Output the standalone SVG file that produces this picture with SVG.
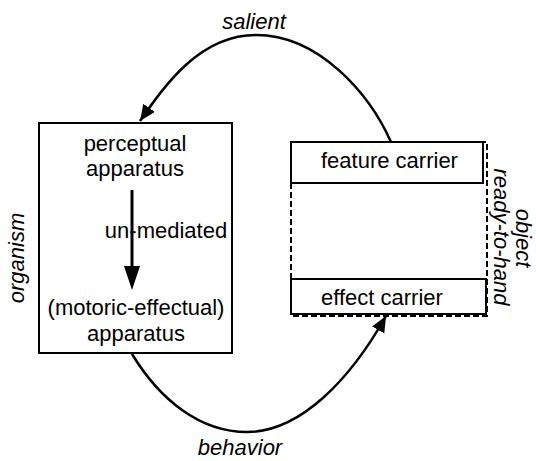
<svg xmlns="http://www.w3.org/2000/svg" width="536" height="461" viewBox="0 0 536 461">
<style>
text{font-family:"Liberation Sans",Arial,sans-serif;font-size:22px;fill:#000}
.it{font-style:italic}
.box{fill:#fff;stroke:#000;stroke-width:2}
.dash{fill:none;stroke:#000;stroke-width:2;stroke-dasharray:6 3}
.con{fill:none;stroke:#000;stroke-width:2.5}
</style>
<defs>
<marker id="ah" markerUnits="userSpaceOnUse" markerWidth="20" markerHeight="16" refX="16" refY="7" orient="auto">
<path d="M0,0 L16,7 L0,14 z" fill="#000"/>
</marker>
</defs>
<rect width="536" height="461" fill="#fff"/>
<g id="organism">
<rect class="box" x="39" y="123" width="193" height="230"/>
<text x="135" y="151" text-anchor="middle">perceptual</text>
<text x="135" y="176" text-anchor="middle">apparatus</text>
<text x="136" y="315" text-anchor="middle">(motoric-effectual)</text>
<text x="136" y="341" text-anchor="middle">apparatus</text>
<text class="it" transform="translate(24,258) rotate(-90)" text-anchor="middle">organism</text>
</g>
<g id="object">
<rect class="box" x="291" y="142" width="192" height="41"/>
<rect class="box" x="291" y="279" width="195" height="35"/>
<rect class="dash" x="291" y="142" width="196" height="174"/>
<text x="321" y="168">feature carrier</text>
<text x="321" y="305">effect carrier</text>
<text class="it" transform="translate(516,238) rotate(90)" text-anchor="middle">object</text>
<text class="it" transform="translate(494,237) rotate(90)" text-anchor="middle">ready-to-hand</text>
</g>
<g id="connectors">
<path class="con" d="M132,190 L132,272" style="stroke-width:3"/>
<path d="M124,266 L140,266 L132,290 z" fill="#000"/>
<text x="166" y="238" text-anchor="middle">un-mediated</text>
<path class="con" marker-end="url(#ah)" d="M391,142 C370,95 320,35 256,35 C200,35 165,85 140,121"/>
<text class="it" x="254" y="29" text-anchor="middle">salient</text>
<path class="con" marker-end="url(#ah)" d="M132,354 C160,400 200,432 247,432 C300,432 350,380 386,316"/>
<text class="it" x="240" y="455" text-anchor="middle">behavior</text>
</g>
</svg>
